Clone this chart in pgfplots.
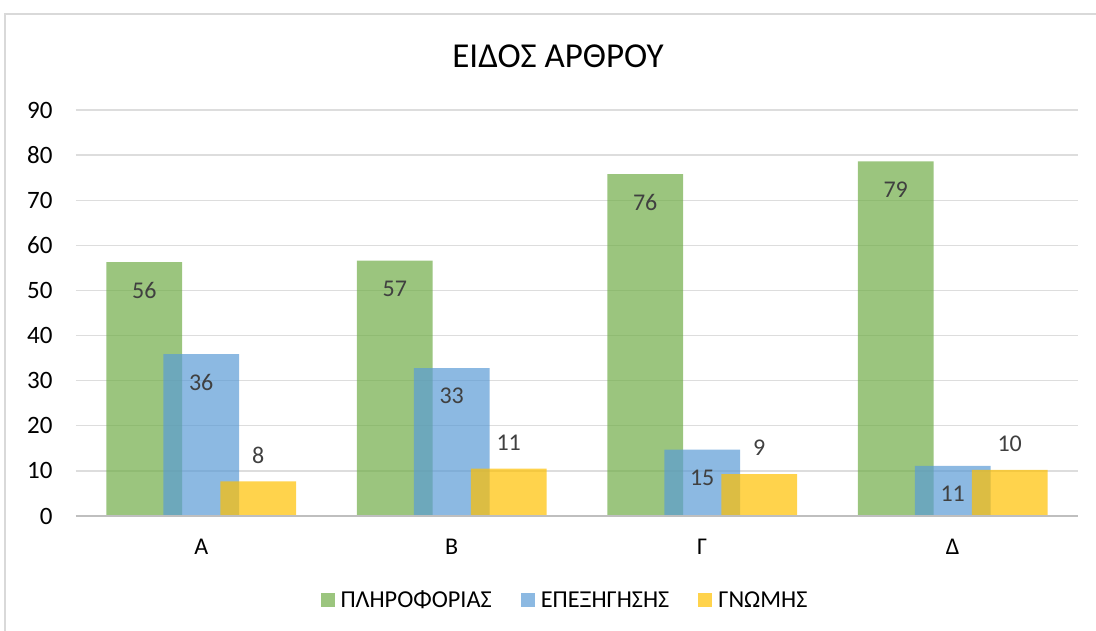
\documentclass[border=0pt]{standalone}
\usepackage{fontspec}
\setmainfont{Carlito}
\usepackage{pgfplots}
\pgfplotsset{compat=1.18}
\definecolor{cgreen}{HTML}{70AD47}
\definecolor{cblue}{HTML}{5B9BD5}
\definecolor{cyellow}{HTML}{FFC000}
\definecolor{gridc}{HTML}{DDDDDD}
\definecolor{axisc}{HTML}{BFBFBF}
\definecolor{framec}{HTML}{D9D9D9}
\definecolor{lblc}{HTML}{404040}
\begin{document}
\begin{tikzpicture}[x=1pt,y=1pt]
\useasboundingbox (0,0) rectangle (1096,-631);
\draw[framec, line width=1.5pt] (5,-632) -- (5,-14) -- (1097,-14);
\node[font=\fontsize{35}{42}\selectfont, text=black] at (558,-56) {ΕΙΔΟΣ ΑΡΘΡΟΥ};
\begin{axis}[
  at={(76pt,-516pt)}, anchor=south west,
  scale only axis, width=1002pt, height=406pt,
  xmin=-0.5, xmax=3.5, ymin=0, ymax=90,
  ytick={0,10,...,90},
  xtick={0,1,2,3}, xticklabels={Α,Β,Γ,Δ},
  axis line style={draw=none},
  major tick length=0pt,
  ymajorgrids, major grid style={gridc, line width=1.3pt},
  /pgf/number format/assume math mode=true,
  tick label style={font=\fontsize{24}{29}\selectfont, text=black},
  yticklabel style={font=\fontsize{25}{30}\selectfont, inner sep=0pt, anchor=east, xshift=-23.3pt},
  xticklabel style={inner sep=0pt, anchor=base, yshift=-38pt},
  ybar, bar width=0.303,
  clip=false,
  point meta=explicit symbolic,
  nodes near coords,
  every node near coord/.append style={font=\fontsize{24}{29}\selectfont, text=lblc, text opacity=1, anchor=center, inner sep=0pt},
  legend columns=3,
  legend style={at={(0.487,-0.207)}, anchor=center, draw=none, fill=none, inner sep=0pt,
    font=\fontsize{24.3}{29}\selectfont,
    nodes={inner sep=0pt, text opacity=1, text=black},
    /tikz/every odd column/.append style={column sep=6pt},
    /tikz/every even column/.append style={column sep=29pt}},
  legend image code/.code={\fill[#1] (0pt,-7pt) rectangle (14pt,7pt);},
]
\addplot[fill=cgreen, fill opacity=0.7, draw=none, bar shift=-0.2275,
  every node near coord/.append style={yshift=-28pt}]
  coordinates {(0,56.3) [56] (1,56.6) [57] (2,75.8) [76] (3,78.6) [79]};
\addlegendentry{ΠΛΗΡΟΦΟΡΙΑΣ}
\addplot[fill=cblue, fill opacity=0.7, draw=none, bar shift=0,
  every node near coord/.append style={yshift=-28pt}]
  coordinates {(0,35.9) [36] (1,32.8) [33] (2,14.7) [15] (3,11.1) [11]};
\addlegendentry{ΕΠΕΞΗΓΗΣΗΣ}
\addplot[fill=cyellow, fill opacity=0.7, draw=none, bar shift=0.2275,
  every node near coord/.append style={yshift=26pt}]
  coordinates {(0,7.7) [8] (1,10.5) [11] (2,9.3) [9] (3,10.2) [10]};
\addlegendentry{ΓΝΩΜΗΣ}
\draw[axisc, line width=2.5pt] (axis cs:-0.5,0) -- (axis cs:3.5,0);
\end{axis}
\end{tikzpicture}
\end{document}
